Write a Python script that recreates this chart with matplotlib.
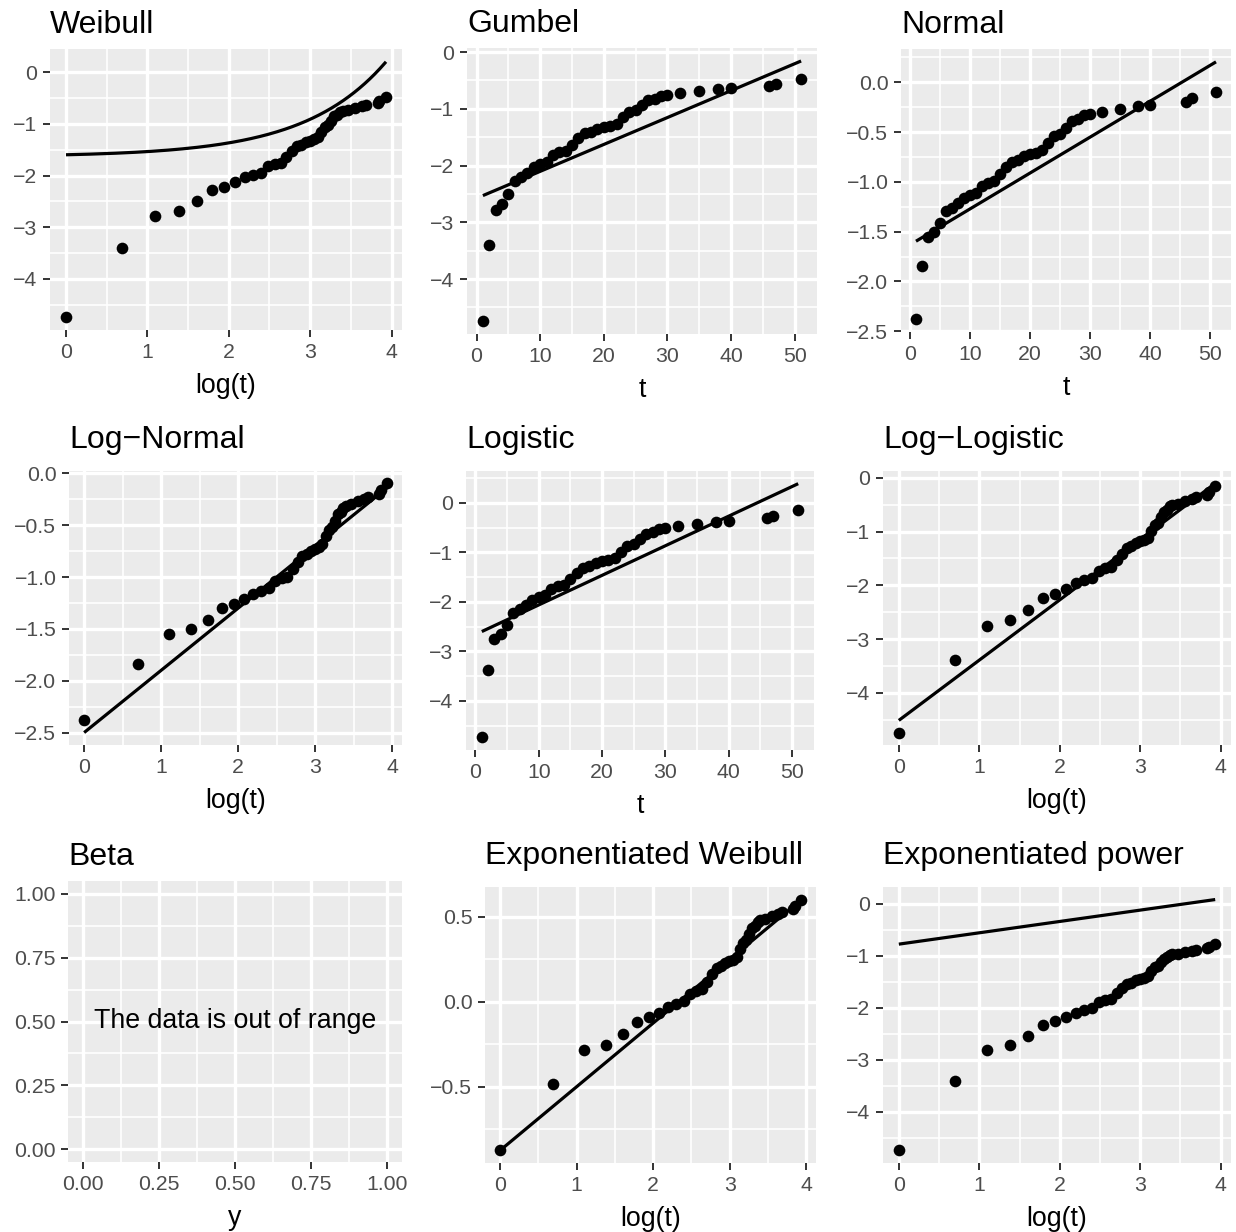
import numpy as np
import matplotlib
matplotlib.use("Agg")
import matplotlib.pyplot as plt
from matplotlib.ticker import MultipleLocator, FuncFormatter
from statistics import NormalDist

plt.rcParams['font.family'] = ['Liberation Sans', 'DejaVu Sans']

# ---- data ----
t = np.array([1, 2, 3, 4, 5, 6, 7, 8, 9, 10, 11, 12, 13, 14, 15, 16, 17, 18, 19, 20,
              21, 22, 23, 24, 25, 26, 27, 28, 29, 30, 32, 35, 38, 40, 46, 47, 51])
ecdf = np.array([0.0087, 0.0328, 0.0601, 0.0663, 0.0788, 0.0972, 0.1039, 0.1120, 0.1231,
                 0.1290, 0.1339, 0.1496, 0.1566, 0.1595, 0.1779, 0.1964, 0.2128, 0.2185,
                 0.2283, 0.2344, 0.2385, 0.2470, 0.2714, 0.2929, 0.3027, 0.3233, 0.3478,
                 0.3562, 0.3706, 0.3765, 0.3824, 0.3945, 0.4037, 0.4098, 0.4224, 0.4352,
                 0.4614])

# fitted reference lines (intercept, slope) on each panel's x scale
normal_fit = (-1.632, 0.0360)      # vs t (also drawn on the Weibull panel)
gumbel_fit = (-2.577, 0.04744)     # vs t
logistic_fit = (-2.660, 0.0597)    # vs t
lognormal_fit = (-2.500, 0.600)    # vs log(t)
loglogistic_fit = (-4.510, 1.120)  # vs log(t)
expweibull_fit = (-0.875, 0.375)   # vs log(t)
exppower_fit = (-0.780, 0.218)     # vs log(t)
expweibull_alpha = 4.41

titles = ["Weibull", "Gumbel", "Normal", "Log\u2212Normal", "Logistic", "Log\u2212Logistic",
          "Beta", "Exponentiated Weibull", "Exponentiated power"]
xlabels = ["log(t)", "t", "t", "log(t)", "t", "log(t)", "y", "log(t)", "log(t)"]
beta_message = "The data is out of range"

# ---- transforms ----
qnorm = np.vectorize(NormalDist().inv_cdf)
y_weib = np.log(-np.log(1 - ecdf))
y_norm = qnorm(ecdf)
y_logit = np.log(ecdf / (1 - ecdf))
y_expw = np.log(-np.log(1 - ecdf ** (1 / expweibull_alpha)))
y_expp = np.log(ecdf)

tt = np.linspace(t.min(), t.max(), 300)
lt = np.log(t)
ltt = np.log(tt)

def lin(fit, x):
    return fit[0] + fit[1] * x

panels = [
    dict(x=lt, y=y_weib, lx=ltt, ly=lin(normal_fit, tt), xstep=1, ystep=1, xfmt=0, yfmt=0),
    dict(x=t, y=y_weib, lx=tt, ly=lin(gumbel_fit, tt), xstep=10, ystep=1, xfmt=0, yfmt=0),
    dict(x=t, y=y_norm, lx=tt, ly=lin(normal_fit, tt), xstep=10, ystep=0.5, xfmt=0, yfmt=1),
    dict(x=lt, y=y_norm, lx=ltt, ly=lin(lognormal_fit, ltt), xstep=1, ystep=0.5, xfmt=0, yfmt=1),
    dict(x=t, y=y_logit, lx=tt, ly=lin(logistic_fit, tt), xstep=10, ystep=1, xfmt=0, yfmt=0),
    dict(x=lt, y=y_logit, lx=ltt, ly=lin(loglogistic_fit, ltt), xstep=1, ystep=1, xfmt=0, yfmt=0),
    None,
    dict(x=lt, y=y_expw, lx=ltt, ly=lin(expweibull_fit, ltt), xstep=1, ystep=0.5, xfmt=0, yfmt=1),
    dict(x=lt, y=y_expp, lx=ltt, ly=lin(exppower_fit, ltt), xstep=1, ystep=1, xfmt=0, yfmt=0),
]

# panel boxes in pixels: left, top, right, bottom
W, H = 1236, 1232
boxes = [
    (50, 49, 402, 330), (467, 48, 817, 334), (901, 49, 1231, 332),
    (69, 471, 402, 745), (466, 471, 814, 750), (883, 471, 1231, 745),
    (68, 881, 402, 1162), (485, 887, 816, 1163), (883, 887, 1231, 1163),
]

def fmt(dec):
    def f(v, p):
        s = f"{v:.{dec}f}"
        if float(s) == 0:
            s = s.lstrip('-')
        return s.replace('-', '\u2212')
    return FuncFormatter(f)

def expand(vals):
    lo, hi = np.min(vals), np.max(vals)
    d = (hi - lo) * 0.05
    return lo - d, hi + d

fig = plt.figure(figsize=(W / 100, H / 100), dpi=100)
for i, (box, p) in enumerate(zip(boxes, panels)):
    l, tp, r, b = box
    ax = fig.add_axes([l / W, 1 - b / H, (r - l) / W, (b - tp) / H])
    ax.set_facecolor('#EBEBEB')
    for s in ax.spines.values():
        s.set_visible(False)
    if p is None:
        ax.set_xlim(-0.05, 1.05)
        ax.set_ylim(-0.05, 1.05)
        xs, ys, xd, yd = 0.25, 0.25, 2, 2
        ax.text(0.5, 0.5, beta_message, ha='center', va='center', fontsize=19.3, color='black')
    else:
        ax.plot(p['lx'], p['ly'], color='black', lw=2.3, solid_capstyle='butt', zorder=3)
        ax.plot(p['x'], p['y'], 'o', color='black', ms=8.4, mew=0, zorder=4)
        ax.set_xlim(*expand(np.concatenate([p['x'], p['lx']])))
        ax.set_ylim(*expand(np.concatenate([p['y'], p['ly']])))
        xs, ys, xd, yd = p['xstep'], p['ystep'], p['xfmt'], p['yfmt']
    ax.xaxis.set_major_locator(MultipleLocator(xs))
    ax.xaxis.set_minor_locator(MultipleLocator(xs / 2))
    ax.yaxis.set_major_locator(MultipleLocator(ys))
    ax.yaxis.set_minor_locator(MultipleLocator(ys / 2))
    ax.xaxis.set_major_formatter(fmt(xd))
    ax.yaxis.set_major_formatter(fmt(yd))
    ax.set_axisbelow(True)
    ax.grid(which='major', color='white', lw=2.4)
    ax.grid(which='minor', color='white', lw=1.2)
    ax.tick_params(which='major', length=4.8, width=1.4, color='#333333', pad=4.3,
                   labelsize=15.3, labelcolor='#4D4D4D')
    ax.tick_params(which='minor', length=0)
    ax.set_xlabel(xlabels[i], fontsize=19.3, labelpad=8.0, color='black')
    has_desc = any(c in titles[i] for c in "gjpqy")
    ax.set_title(titles[i], loc='left', fontsize=23, pad=16.5 if has_desc else 11.5,
                 color='black')

fig.savefig("out.png", dpi=100, facecolor='white')
